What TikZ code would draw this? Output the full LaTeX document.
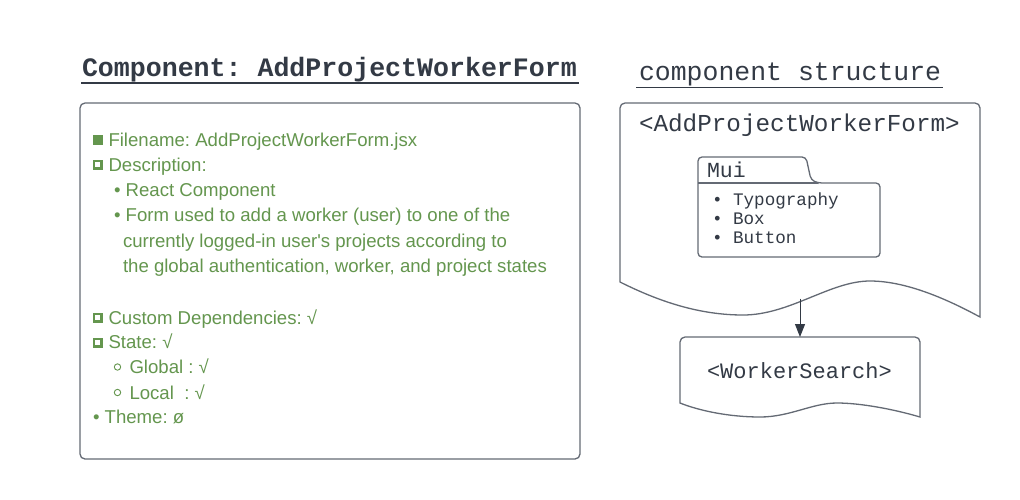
\documentclass[tikz,border=0pt]{standalone}
\usepackage{fontspec}
\setmainfont{Liberation Sans}
\newfontfamily\gsans{Liberation Sans}
\newfontfamily\monofont{Liberation Mono}
\usetikzlibrary{arrows.meta}
\definecolor{ink}{RGB}{51,58,69}
\definecolor{frame}{RGB}{100,106,116}
\definecolor{leaf}{RGB}{100,150,78}
\frenchspacing
\begin{document}
\begin{tikzpicture}[x=1pt,y=-1pt,
  txt/.style={anchor=base west,inner sep=0pt,outer sep=0pt},
  gtxt/.style={txt,text=leaf,font=\gsans\fontsize{18.6}{20}\selectfont},
  mtxt/.style={txt,text=ink},
  shapeline/.style={draw=frame,line width=1.3pt},
  fullsq/.style={fill=leaf},
  hollowsq/.style={draw=leaf,line width=2.4pt},
  ring/.style={draw=leaf,line width=0.9pt},
]
\useasboundingbox (0,0) rectangle (1020,499);
\fill[white] (0,0) rectangle (1020,499);

% ---------- left title ----------
\node[mtxt,font=\monofont\bfseries\fontsize{26.6}{30}\selectfont] (title) at (82,76) {Component: AddProjectWorkerForm};
\draw[ink,line width=2pt] (81,83) -- (579,83);

% ---------- left info box ----------
\node[shapeline,rounded corners=5pt,minimum width=500pt,minimum height=356pt,inner sep=0pt] (infobox) at (330,281) {};

\fill[fullsq] (93,135) rectangle (102.5,144.5);
\node[gtxt] (l1) at (108.5,146) {Filename: AddProjectWorkerForm.jsx};
\draw[hollowsq] (94.2,161.2) rectangle (101.3,168.3);
\node[gtxt] (l2) at (108.5,171) {Description:};
\node[gtxt] (l3) at (114,196.5) {• React Component};
\node[gtxt] (l4) at (114,221.5) {• Form used to add a worker (user) to one of the};
\node[gtxt] (l5) at (123,247) {currently logged-in user's projects according to};
\node[gtxt] (l6) at (123,272) {the global authentication, worker, and project states};

\draw[hollowsq] (94.2,314.2) rectangle (101.3,321.3);
\node[gtxt] (l7) at (108.5,324) {Custom Dependencies: √};
\draw[hollowsq] (94.2,339.2) rectangle (101.3,346.3);
\node[gtxt] (l8) at (108.5,348.5) {State: √};
\draw[ring] (117.5,367) circle[radius=3.2];
\node[gtxt] (l9) at (129.5,373.5) {Global : √};
\draw[ring] (117.5,392.5) circle[radius=3.2];
\node[gtxt] (l10) at (129.5,399) {Local\ \ : √};
\node[gtxt] (l11) at (93,423.5) {• Theme: ø};

% ---------- right title ----------
\node[mtxt,font=\monofont\fontsize{26.5}{30}\selectfont] (rtitle) at (639,80) {component structure};
\draw[ink,line width=1.2pt] (636,87.5) -- (943,87.5);

% ---------- main document shape ----------
\draw[shapeline] (620,282) [rounded corners=5pt] -- (620,103) -- (980,103) [sharp corners] -- (980,317)
  .. controls (945,298) and (905,281) .. (870,281)
  .. controls (830,281) and (790,315) .. (743,315)
  .. controls (700,315) and (660,302) .. (620,282) -- cycle;
\node[mtxt,font=\monofont\fontsize{24.3}{28}\selectfont] (mainlabel) at (639,131) {<AddProjectWorkerForm>};

% ---------- Mui folder ----------
\draw[shapeline] (698,183) [rounded corners=4pt] -- (698,157) -- (806,157) -- (811,180) -- (818,183) -- (880,183) -- (880,257) -- (698,257) -- cycle;
\draw[shapeline] (698,183) -- (818,183);
\node[mtxt,font=\monofont\fontsize{21.5}{24}\selectfont] (mui) at (707,177) {Mui};
\node[mtxt,font=\monofont\fontsize{17.6}{20}\selectfont] (i1) at (712,205.5) {• Typography};
\node[mtxt,font=\monofont\fontsize{17.6}{20}\selectfont] (i2) at (712,224) {• Box};
\node[mtxt,font=\monofont\fontsize{17.6}{20}\selectfont] (i3) at (712,243) {• Button};

% ---------- WorkerSearch document ----------
\draw[shapeline] (680,403) [rounded corners=5pt] -- (680,337) -- (920,337) [sharp corners] -- (920,417)
  .. controls (893,409) and (860,403) .. (837,403)
  .. controls (812,403) and (790,417) .. (760,417)
  .. controls (730,417) and (700,411) .. (680,403) -- cycle;
\node[mtxt,font=\monofont\fontsize{22}{26}\selectfont] (ws) at (707,378) {<WorkerSearch>};

% ---------- connector ----------
\coordinate (wavept) at (800,298.5);
\coordinate (wstop) at (800,337);
\draw[ink,line width=1pt,-{Triangle[length=13pt,width=10pt]}] (wavept) -- (wstop);
\end{tikzpicture}
\end{document}
